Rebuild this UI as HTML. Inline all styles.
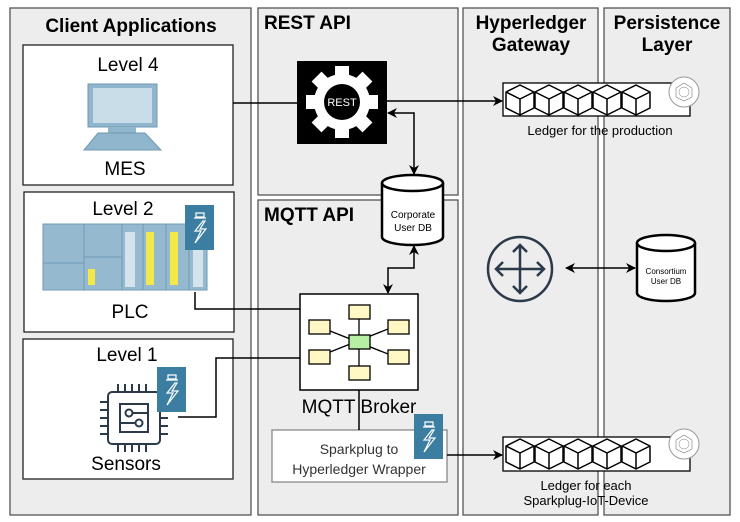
<!DOCTYPE html>
<html><head><meta charset="utf-8"><style>
html,body{margin:0;padding:0;background:#fff;}
svg{display:block;font-family:"Liberation Sans",Arial,sans-serif;}
</style></head><body>
<svg width="740" height="522" viewBox="0 0 740 522" xmlns="http://www.w3.org/2000/svg">
<defs>
<marker id="ar" viewBox="0 0 10 10" refX="9" refY="5" markerWidth="10" markerHeight="10" orient="auto-start-reverse" markerUnits="userSpaceOnUse"><path d="M0,0 L10,5 L0,10 L3,5 z" fill="#000"/></marker>
<g id="cube"><path d="M0,8 L14,1 L28,8 L28,24 L14,31 L0,24 Z M0,8 L14,15 L28,8 M14,15 L14,31" fill="#fff" stroke="#000" stroke-width="1.5" stroke-linejoin="round"/></g>
<g id="spk"><rect x="0" y="0" width="29" height="45" fill="#3b7ea1"/><path d="M11,8 h8 v4 h-8z M9,13 h12 M18,16 l-8,10 h6 l-6,12 l11,-14 h-6 l5,-8z" fill="none" stroke="#fff" stroke-width="1.2"/></g>
<g id="hl"><circle r="15" fill="#fff" stroke="#999"/><polygon points="0,-9 8,-4 8,5 0,9 -8,5 -8,-4" fill="none" stroke="#777" stroke-width="0.6"/><circle r="5" fill="none" stroke="#777" stroke-width="0.5"/></g>
</defs>
<rect x="10" y="8" width="241" height="507" fill="#ededed" stroke="#555" stroke-width="1.3"/>
<rect x="258" y="8" width="200" height="187" fill="#ededed" stroke="#555" stroke-width="1.3"/>
<rect x="258" y="200" width="200" height="315" fill="#ededed" stroke="#555" stroke-width="1.3"/>
<rect x="463" y="8" width="135" height="507" fill="#ededed" stroke="#555" stroke-width="1.3"/>
<rect x="604" y="8" width="126" height="507" fill="#ededed" stroke="#555" stroke-width="1.3"/>
<g font-weight="bold" font-size="19" fill="#000">
<text x="131" y="32" text-anchor="middle">Client Applications</text>
<text x="264" y="29">REST API</text>
<text x="264" y="221">MQTT API</text>
<text x="531" y="29" text-anchor="middle">Hyperledger</text>
<text x="531" y="51" text-anchor="middle">Gateway</text>
<text x="667" y="29" text-anchor="middle">Persistence</text>
<text x="667" y="51" text-anchor="middle">Layer</text>
</g>
<rect x="23" y="45" width="210" height="140" fill="#fff" stroke="#222" stroke-width="1.3"/>
<rect x="24" y="192" width="210" height="140" fill="#fff" stroke="#222" stroke-width="1.3"/>
<rect x="23" y="339" width="210" height="140" fill="#fff" stroke="#222" stroke-width="1.3"/>
<g font-size="19" text-anchor="middle">
<text x="128" y="71">Level 4</text>
<text x="125" y="175">MES</text>
<text x="123" y="215">Level 2</text>
<text x="130" y="318">PLC</text>
<text x="127" y="361">Level 1</text>
<text x="126" y="470">Sensors</text>
</g>
<rect x="88" y="84" width="69" height="43" fill="#8fb6cc" stroke="#6f9ab3"/>
<rect x="93" y="88" width="59" height="35" fill="#c9dde8"/>
<rect x="108" y="127" width="28" height="6" fill="#8fb6cc"/>
<path d="M98,133 h47 l16,17 h-77z" fill="#8fb6cc" stroke="#6f9ab3"/>
<rect x="43" y="224" width="164" height="66" fill="#95bad0" stroke="#6f9ab3"/>
<line x1="43" y1="263" x2="84" y2="263" stroke="#6f9ab3"/>
<line x1="84" y1="224" x2="84" y2="290" stroke="#6f9ab3"/>
<line x1="84" y1="257" x2="122" y2="257" stroke="#6f9ab3"/>
<rect x="88" y="269" width="7" height="16" fill="#f2e84a"/>
<line x1="122" y1="224" x2="122" y2="290" stroke="#6f9ab3"/>
<rect x="125" y="232" width="10" height="55" fill="#d5e4ec"/>
<rect x="146" y="232" width="8" height="53" fill="#f2e84a"/>
<rect x="170" y="232" width="8" height="53" fill="#f2e84a"/>
<rect x="193" y="250" width="10" height="37" fill="#d5e4ec"/>
<line x1="143" y1="224" x2="143" y2="290" stroke="#6f9ab3"/>
<line x1="166" y1="224" x2="166" y2="290" stroke="#6f9ab3"/>
<line x1="189" y1="224" x2="189" y2="290" stroke="#6f9ab3"/>
<use href="#spk" x="185" y="205"/>
<g stroke="#2b3a4a" stroke-width="2" fill="none">
<rect x="108" y="392" width="52" height="52" rx="4" fill="#fff"/>
<rect x="120" y="404" width="28" height="28"/>
<circle cx="129" cy="413" r="3.5"/><circle cx="139" cy="423" r="3.5"/>
<path d="M132,413 h16 M120,423 h15"/>
<path d="M118,392 v-8 M125,392 v-8 M132,392 v-8 M139,392 v-8 M146,392 v-8 M118,444 v8 M125,444 v8 M132,444 v8 M139,444 v8 M146,444 v8 M108,402 h-8 M108,410 h-8 M108,418 h-8 M108,426 h-8 M108,434 h-8 M160,402 h8 M160,410 h8 M160,418 h8 M160,426 h8 M160,434 h8"/>
</g>
<use href="#spk" x="157" y="367"/>
<rect x="297" y="61" width="90" height="83" fill="#000"/>
<g transform="translate(342,102)" fill="#fff">
<circle r="28"/>
<g id="teeth"><rect x="-7" y="-36" width="14" height="14"/><rect x="-7" y="22" width="14" height="14"/><rect x="-36" y="-7" width="14" height="14"/><rect x="22" y="-7" width="14" height="14"/></g>
<use href="#teeth" transform="rotate(45)"/>
<circle r="18" fill="#000"/>
<text y="4" text-anchor="middle" font-size="11" fill="#fff">REST</text>
</g>
<path d="M382,183 v54 a30.5,8 0 0 0 61,0 v-54" fill="#fff" stroke="#000" stroke-width="2.5"/>
<ellipse cx="412.5" cy="183" rx="30.5" ry="8" fill="#fff" stroke="#000" stroke-width="2.5"/>
<text x="413" y="218" font-size="10" text-anchor="middle">Corporate</text>
<text x="413" y="231" font-size="10" text-anchor="middle">User DB</text>
<rect x="300" y="294" width="118" height="96" fill="#fff" stroke="#000" stroke-width="1.5"/>
<g stroke="#000" stroke-width="1.3">
<line x1="359" y1="315" x2="359" y2="370"/><line x1="320" y1="327" x2="393" y2="356"/><line x1="320" y1="356" x2="393" y2="327"/>
<g fill="#fff8c4"><rect x="349" y="305" width="21" height="14"/><rect x="349" y="366" width="21" height="14"/><rect x="309" y="320" width="21" height="14"/><rect x="309" y="350" width="21" height="14"/><rect x="388" y="320" width="21" height="14"/><rect x="388" y="350" width="21" height="14"/></g>
<rect x="349" y="335" width="21" height="14" fill="#b5f0a5"/>
</g>
<text x="359" y="413" font-size="19" text-anchor="middle">MQTT Broker</text>
<rect x="272" y="430" width="175" height="52" fill="#fff" stroke="#888" stroke-width="1.3"/>
<text x="359" y="454" font-size="14" fill="#333" text-anchor="middle">Sparkplug to</text>
<text x="359" y="474" font-size="14" fill="#333" text-anchor="middle">Hyperledger Wrapper</text>
<use href="#spk" x="414" y="414"/>
<rect x="503" y="83" width="187" height="33" fill="#fff" stroke="#000" stroke-width="1.3"/>
<use href="#cube" x="506" y="84"/><use href="#cube" x="535" y="84"/><use href="#cube" x="564" y="84"/><use href="#cube" x="593" y="84"/><use href="#cube" x="622" y="84"/>
<use href="#hl" x="684" y="92"/>
<text x="600" y="135" font-size="13" text-anchor="middle">Ledger for the production</text>
<rect x="503" y="437" width="187" height="34" fill="#fff" stroke="#000" stroke-width="1.3"/>
<use href="#cube" x="506" y="438"/><use href="#cube" x="535" y="438"/><use href="#cube" x="564" y="438"/><use href="#cube" x="593" y="438"/><use href="#cube" x="622" y="438"/>
<use href="#hl" x="684" y="444"/>
<text x="586" y="490" font-size="13" text-anchor="middle">Ledger for each</text>
<text x="586" y="505" font-size="13" text-anchor="middle">Sparkplug-IoT-Device</text>
<g stroke="#2b3a4a" stroke-width="2.5" fill="none">
<circle cx="520" cy="269" r="32"/>
<path d="M520,245 v48 M496,269 h48 M513,252 l7,-7 l7,7 M513,286 l7,7 l7,-7 M503,262 l-7,7 l7,7 M537,262 l7,7 l-7,7"/>
</g>
<path d="M637,243 v50 a29,8 0 0 0 58,0 v-50" fill="#fff" stroke="#000" stroke-width="2.5"/>
<ellipse cx="666" cy="243" rx="29" ry="8" fill="#fff" stroke="#000" stroke-width="2.5"/>
<text x="666" y="274" font-size="8" text-anchor="middle">Consortium</text>
<text x="666" y="284" font-size="8" text-anchor="middle">User DB</text>
<g stroke="#000" stroke-width="1.5" fill="none">
<path d="M233,103 H297"/>
<path d="M387,101 H502" marker-end="url(#ar)"/>
<path d="M388,113 H414 V174" marker-start="url(#ar)" marker-end="url(#ar)"/>
<path d="M414,246 V268 H388 V293" marker-start="url(#ar)" marker-end="url(#ar)"/>
<path d="M195,292 V309 H300"/>
<path d="M178,417 H216 V358 H300"/>
<path d="M359,390 V430"/>
<path d="M447,455 H502" marker-end="url(#ar)"/>
<path d="M566,268 H635" marker-start="url(#ar)" marker-end="url(#ar)"/>
</g>
</svg>
</body></html>
